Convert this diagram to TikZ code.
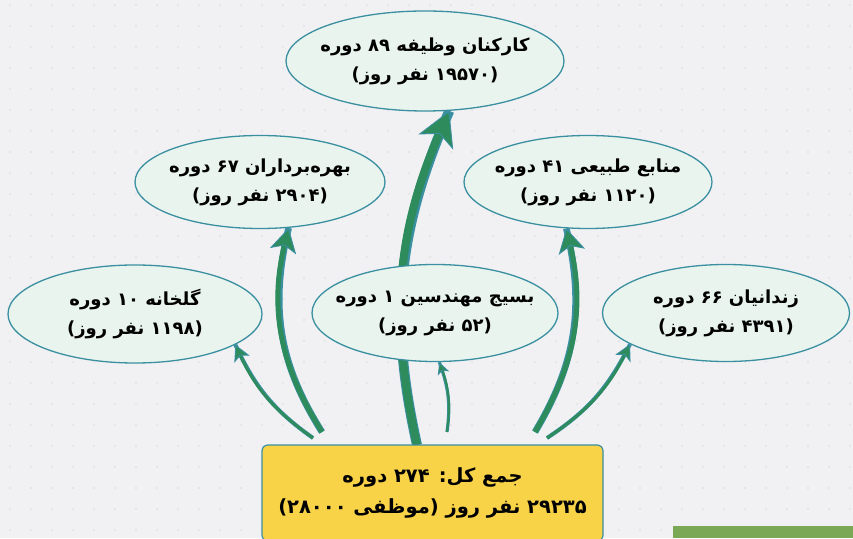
\documentclass[tikz,border=0pt]{standalone}
\usepackage{fontspec}
\newfontfamily\arabicfont[Script=Arabic]{DejaVu Sans}
\TeXXeTstate=1
\usetikzlibrary{arrows.meta,shapes.geometric}

\definecolor{bgGray}{HTML}{F1F1F3}
\definecolor{dotGray}{HTML}{E4E4E8}
\definecolor{ovalFill}{HTML}{E9F4EE}
\definecolor{edgeTeal}{HTML}{3A8FA0}
\definecolor{flowGreen}{HTML}{2E8B5C}
\definecolor{sumYellow}{HTML}{F8D348}
\definecolor{barGreen}{HTML}{7BA854}

\pgfdeclarelayer{back}
\pgfdeclarelayer{flows}
\pgfsetlayers{back,flows,main}

\newcommand{\faLine}[1]{\beginR #1\endR}
\newcommand{\faNum}[1]{\beginL#1\endL{}}

\begin{document}
\begin{tikzpicture}[x=1pt,y=1pt]
		\useasboundingbox (0,0) rectangle (853,538);
		\begin{pgfonlayer}{back}
			\fill[bgGray] (0,0) rectangle (853,538);
			\foreach \i in {0,...,40}
				\foreach \j in {0,...,25}
					\fill[dotGray] (10+21*\i,8+21*\j) circle (1.1);
			\fill[barGreen] (673,0) rectangle (853,12);
		\end{pgfonlayer}

		\begin{scope}
			[
				styleOval/.style 2 args={
					ellipse, draw=edgeTeal, line width=1.3pt, fill=ovalFill,
					minimum width=#1, minimum height=#2,
					inner xsep=-45pt, inner ysep=-12pt,
					align=center, font=\arabicfont\bfseries\fontsize{18}{29}\selectfont
					},
				styleSum/.style={
					rectangle, rounded corners=6pt, draw=edgeTeal, line width=1.2pt,
					fill=sumYellow, minimum width=341pt, minimum height=96pt,
					align=center, font=\arabicfont\bfseries\fontsize{19.5}{31}\selectfont
					},
			]
			\node(krk)[styleOval={278pt}{100pt}] at (425,477)
				{\faLine{کارکنان وظیفه \faNum{۸۹} دوره}\\\faLine{(\faNum{۱۹۵۷۰} نفر روز)}};

			\node(bhr)[styleOval={250pt}{93pt}] at (260,356)
				{\faLine{بهره‌برداران \faNum{۶۷} دوره}\\\faLine{(\faNum{۲۹۰۴} نفر روز)}};
			\node(mnb)[styleOval={248pt}{93pt}] at (588,356)
				{\faLine{منابع طبیعی \faNum{۴۱} دوره}\\\faLine{(\faNum{۱۱۲۰} نفر روز)}};

			\node(glk)[styleOval={254pt}{98pt}] at (135,224)
				{\faLine{گلخانه \faNum{۱۰} دوره}\\\faLine{(\faNum{۱۱۹۸} نفر روز)}};
			\node(bsj)[styleOval={246pt}{97pt}] at (435,225)
				{\faLine{بسیج مهندسین \faNum{۱} دوره}\\\faLine{(\faNum{۵۲} نفر روز)}};
			\node(znd)[styleOval={247pt}{97pt}] at (726,225)
				{\faLine{زندانیان \faNum{۶۶} دوره}\\\faLine{(\faNum{۴۳۹۱} نفر روز)}};

			\node(total)[styleSum] at (432.5,45)
				{\faLine{جمع کل: \faNum{۲۷۴} دوره}\\\faLine{\faNum{۲۹۲۳۵} نفر روز (موظفی \faNum{۲۸۰۰۰})}};

			% feet of the arrows above the box
			\coordinate(bGlk) at (313,100);
			\coordinate(bBhr) at (322,106);
			\coordinate(bKrk) at (417,93);
			\coordinate(bBsj) at (447,106);
			\coordinate(bMnb) at (535,106);
			\coordinate(bZnd) at (547,100);
		\end{scope}

		\begin{scope}
			[ flow/.style n args={5}{
					draw=flowGreen, line width=#1,
					preaction={draw=edgeTeal, line width=#2, arrows=-},
					arrows={-Stealth[length=#3, width=#4, inset=#5, fill=flowGreen, color=edgeTeal, line width=0.9pt]}
					},
				flowBig/.style={flow={8pt}{10pt}{34pt}{38pt}{9pt}},
				flowMid/.style={flow={5pt}{6.6pt}{24pt}{27pt}{6pt}},
				flowThin/.style={flow={2.8pt}{4pt}{16pt}{17pt}{4pt}},
				flowTiny/.style={flow={2pt}{3.2pt}{12pt}{12pt}{3pt}},
			]
			\begin{pgfonlayer}{flows}
			\path
			(bGlk) edge[flowThin, bend left=15]		(glk.-17)
			(bBhr) edge[flowMid, bend left=23]		(bhr.-58)
			(bKrk) edge[flowBig, bend left=18]		(krk.-64)
			(bBsj) edge[flowTiny, bend right=14]	(bsj.-85)
			(bMnb) edge[flowMid, bend right=22]		(mnb.-115)
			(bZnd) edge[flowThin, bend right=15]	(znd.-162);
			\end{pgfonlayer}
		\end{scope}
	\end{tikzpicture}
\end{document}
